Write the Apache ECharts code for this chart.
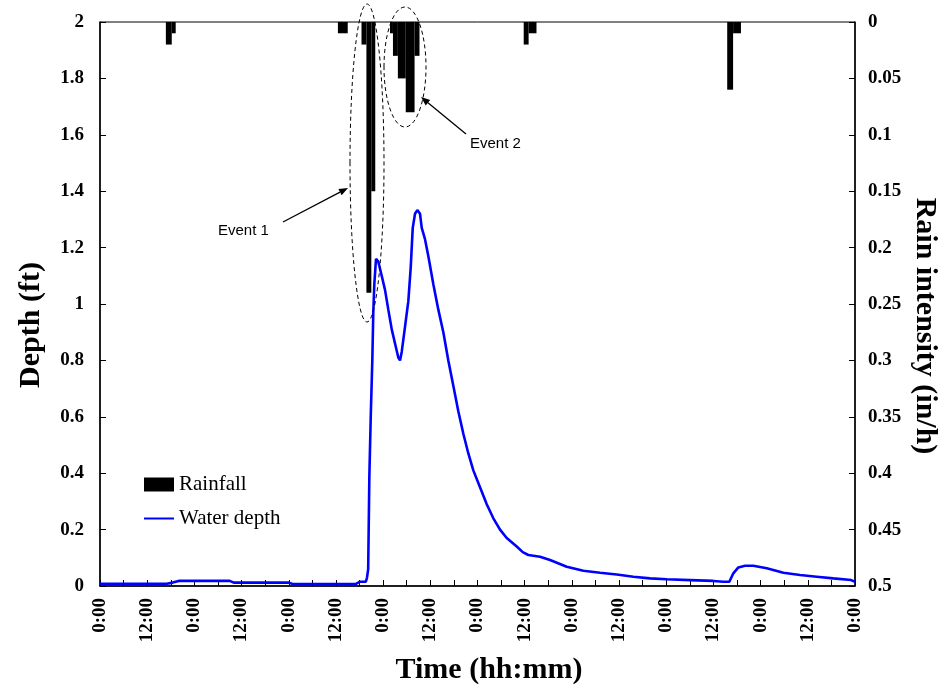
<!DOCTYPE html>
<html><head><meta charset="utf-8">
<script src="https://cdn.jsdelivr.net/npm/echarts@6/dist/echarts.min.js"></script>
<style>html,body{margin:0;padding:0;background:#fff}#c{width:939px;height:685px}</style>
</head><body><div id="c"></div>
<script>
// x tick labels (every 12 h, alternating)
const xTickLabels = ['0:00', '12:00'];
// Water depth (ft) vs time (hours from start)
const depthTime = [0, 10, 17, 18.5, 20, 33, 34, 48, 49, 65, 66, 67.6, 67.9, 68.2, 68.5, 68.85, 69.25, 69.5, 69.76, 70.19, 70.45, 70.78, 71.64, 72.48, 73.32, 74.19, 75.03, 75.86, 76.3, 76.73, 77.57, 78.41, 79.02, 79.53, 80.11, 80.7, 81.38, 81.82, 82.65, 83.49, 84.77, 86.04, 87.31, 88.58, 89.85, 91.12, 92.4, 93.67, 94.94, 96.64, 98.35, 100.03, 101.73, 103.43, 105.98, 107.5, 108.93, 111.9, 114.45, 118.69, 122.92, 127.16, 131.41, 135.65, 139.88, 144.12, 150.05, 155.98, 158.52, 160.05, 161.06, 162.33, 164.04, 166.15, 169.56, 173.78, 178.03, 182.27, 186.49, 191.0, 192];
const depthValue = [0.008, 0.008, 0.008, 0.012, 0.018, 0.018, 0.012, 0.012, 0.007, 0.007, 0.015, 0.015, 0.03, 0.06, 0.39, 0.60, 0.80, 0.97, 1.07, 1.16, 1.165, 1.15, 1.10, 1.05, 0.98, 0.91, 0.86, 0.81, 0.80, 0.83, 0.92, 1.01, 1.13, 1.27, 1.32, 1.333, 1.32, 1.27, 1.23, 1.17, 1.07, 0.98, 0.90, 0.80, 0.71, 0.62, 0.54, 0.47, 0.41, 0.35, 0.29, 0.24, 0.20, 0.17, 0.14, 0.12, 0.11, 0.104, 0.092, 0.068, 0.054, 0.047, 0.041, 0.033, 0.027, 0.024, 0.021, 0.018, 0.015, 0.015, 0.045, 0.066, 0.072, 0.072, 0.063, 0.047, 0.039, 0.033, 0.027, 0.021, 0.015];
// Rainfall intensity (in/h) blocks: start hour, end hour, value
const rainStart = [16.75, 18.25, 60.5, 66.5, 67.75, 69.0, 73.75, 74.5, 75.75, 77.75, 80.0, 107.75, 109.0, 159.5, 161.0];
const rainEnd   = [18.25, 19.25, 63.0, 67.75, 69.0, 70.0, 74.5, 75.75, 77.75, 80.0, 81.25, 109.0, 111.0, 161.0, 163.0];
const rainIntensity = [0.02, 0.01, 0.01, 0.02, 0.24, 0.15, 0.01, 0.03, 0.05, 0.08, 0.03, 0.02, 0.01, 0.06, 0.01];

const chart = echarts.init(document.getElementById('c'), null, {renderer: 'canvas'});
const serif = '"Liberation Serif", "Times New Roman", serif';
const sans = '"Liberation Sans", Arial, sans-serif';
const rainData = rainStart.map((s, i) => [s, rainEnd[i], rainIntensity[i]]);
const depthData = depthTime.map((t, i) => [t, depthValue[i]]);

function arrow(x1, y1, x2, y2) {
  const ang = Math.atan2(y2 - y1, x2 - x1), L = 9, W = 3.5;
  const bx = x2 - L * Math.cos(ang), by = y2 - L * Math.sin(ang);
  const px = -Math.sin(ang) * W, py = Math.cos(ang) * W;
  return [
    {type: 'line', shape: {x1, y1, x2: bx, y2: by}, style: {stroke: '#000', lineWidth: 1.3}},
    {type: 'polygon', shape: {points: [[x2, y2], [bx + px, by + py], [bx - px, by - py]]}, style: {fill: '#000'}}
  ];
}

const axisFont = {fontFamily: serif, fontWeight: 'bold', fontSize: 19, color: '#000'};
const nameFont = {fontFamily: serif, fontWeight: 'bold', fontSize: 30, color: '#000'};

const option = {
  animation: false,
  backgroundColor: '#fff',
  grid: {left: 100, right: 84, top: 22, bottom: 99, show: true, borderColor: '#000', borderWidth: 1, outerBoundsMode: 'none', containLabel: false},
  legend: {
    orient: 'vertical', left: 143, top: 474, padding: 0, itemWidth: 30, itemHeight: 14, itemGap: 13,
    textStyle: {fontFamily: serif, fontSize: 21, color: '#000'},
    data: [{name: 'Rainfall', icon: 'rect'}, {name: 'Water depth', itemStyle: {opacity: 0}}]
  },
  xAxis: {
    type: 'value', min: 0, max: 192, interval: 12,
    axisLine: {lineStyle: {color: '#000', width: 1.5}},
    axisTick: {inside: true, length: 6, lineStyle: {color: '#000'}},
    minorTick: {show: true, splitNumber: 2, length: 6, lineStyle: {color: '#000'}},
    splitLine: {show: false}, minorSplitLine: {show: false},
    axisLabel: Object.assign({rotate: 90, margin: 12, formatter: v => xTickLabels[Math.round(v % 24) / 12]}, axisFont),
    name: 'Time (hh:mm)', nameLocation: 'middle', nameGap: 69, nameMoveOverlap: false,
    nameTextStyle: Object.assign({padding: [0, 0, 0, 23]}, nameFont)
  },
  yAxis: [
    {
      type: 'value', min: 0, max: 2, interval: 0.2, position: 'left',
      axisLine: {show: true, lineStyle: {color: '#000', width: 1.5}},
      axisTick: {show: true, inside: true, length: 6, lineStyle: {color: '#000'}},
      splitLine: {show: false},
      axisLabel: Object.assign({margin: 16}, axisFont),
      name: 'Depth (ft)', nameLocation: 'middle', nameGap: 54, nameMoveOverlap: false,
      nameTextStyle: Object.assign({padding: [0, 42, 0, 0]}, nameFont)
    },
    {
      type: 'value', min: 0, max: 0.5, interval: 0.05, position: 'right', inverse: true,
      axisLine: {show: true, lineStyle: {color: '#000', width: 1.5}},
      axisTick: {show: true, inside: true, length: 6, lineStyle: {color: '#000'}},
      splitLine: {show: false},
      axisLabel: Object.assign({margin: 13, formatter: v => String(+v.toFixed(2))}, axisFont),
      name: 'Rain intensity (in/h)', nameLocation: 'middle', nameGap: 55, nameRotate: -90, nameMoveOverlap: false,
      nameTextStyle: Object.assign({padding: [0, 0, 0, 44]}, nameFont)
    }
  ],
  series: [
    {
      name: 'Rainfall', type: 'custom', xAxisIndex: 0, yAxisIndex: 1,
      data: rainData, encode: {x: [0, 1], y: 2},
      itemStyle: {color: '#000'},
      renderItem: function (params, api) {
        const p0 = api.coord([api.value(0), 0]);
        const p1 = api.coord([api.value(1), api.value(2)]);
        return {type: 'rect', shape: {x: p0[0], y: p0[1], width: p1[0] - p0[0], height: p1[1] - p0[1]}, style: {fill: '#000'}};
      }
    },
    {
      name: 'Water depth', type: 'line', xAxisIndex: 0, yAxisIndex: 0,
      data: depthData, symbol: 'none', showSymbol: false,
      lineStyle: {color: '#0000ff', width: 2.6}, itemStyle: {color: '#0000ff'}
    }
  ],
  graphic: [
    {type: 'ellipse', shape: {cx: 367, cy: 163, rx: 17, ry: 159}, style: {fill: 'none', stroke: '#000', lineWidth: 1, lineDash: [4, 3]}, z: 100},
    {type: 'ellipse', shape: {cx: 405, cy: 67, rx: 21, ry: 60}, style: {fill: 'none', stroke: '#000', lineWidth: 1, lineDash: [4, 3]}, z: 100},
    ...arrow(283, 222, 348, 188).map(e => Object.assign(e, {z: 100})),
    ...arrow(466, 134, 421, 97).map(e => Object.assign(e, {z: 100})),
    {type: 'text', left: 218, top: 223, style: {text: 'Event 1', font: '15px ' + sans, fill: '#000'}, z: 100},
    {type: 'text', left: 470, top: 136, style: {text: 'Event 2', font: '15px ' + sans, fill: '#000'}, z: 100}
  ]
};
chart.setOption(option);
</script>
</body></html>
